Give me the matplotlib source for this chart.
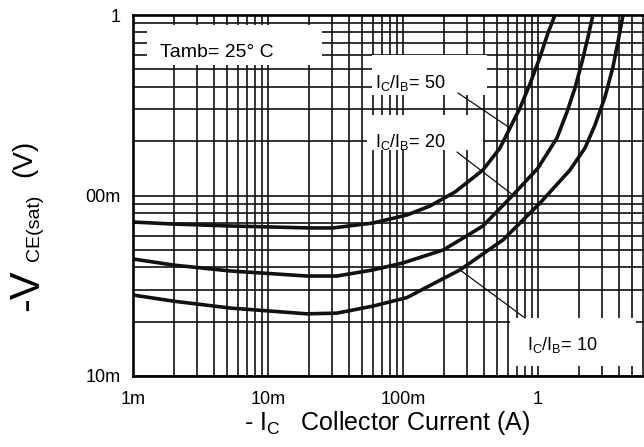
import matplotlib
matplotlib.use("Agg")
import matplotlib.pyplot as plt
from matplotlib.patches import Rectangle

plt.rcParams['font.family'] = ['Liberation Sans', 'DejaVu Sans']

# collector current (A) and V_CE(sat) (V)
i_50 = [0.001, 0.00198, 0.00523, 0.0205, 0.0303, 0.060, 0.107, 0.158,
        0.243, 0.391, 0.523, 0.620, 0.736, 0.872, 1.035, 1.186, 1.336]
v_50 = [0.0713, 0.0695, 0.0678, 0.0661, 0.0661, 0.0704, 0.0780, 0.0874,
        0.1046, 0.1384, 0.1833, 0.2366, 0.3053, 0.4148, 0.585, 0.795, 1.0]

i_20 = [0.001, 0.00198, 0.00523, 0.01945, 0.0324, 0.060, 0.1, 0.198, 0.2644,
        0.391, 0.653, 1.0, 1.382, 1.640, 1.880, 2.118, 2.346, 2.555]
v_20 = [0.0445, 0.0412, 0.0382, 0.0358, 0.0358, 0.0387, 0.0423, 0.0499, 0.0567,
        0.0678, 0.1006, 0.1420, 0.2083, 0.2902, 0.394, 0.549, 0.755, 1.0]

i_10 = [0.001, 0.00198, 0.00523, 0.01945, 0.0324, 0.060, 0.107, 0.158, 0.2644,
        0.550, 1.035, 1.726, 2.229, 2.644, 3.135, 3.593, 3.913, 4.263]
v_10 = [0.0281, 0.0260, 0.0238, 0.0221, 0.0223, 0.0244, 0.0272, 0.0317, 0.0387,
        0.0567, 0.0908, 0.1384, 0.1833, 0.2458, 0.3513, 0.515, 0.709, 1.0]

x_ticks = [1e-3, 1e-2, 1e-1, 1]
x_labels = ['1m', '10m', '100m', '1']
y_ticks = [1e-2, 1e-1, 1]
y_labels = ['10m', '00m', '1']

fig = plt.figure(figsize=(6.44, 4.47), dpi=100)
ax = fig.add_axes([133 / 644, 1 - 376 / 447, 511 / 644, 361 / 447])
ax.set_xscale('log')
ax.set_yscale('log')
ax.set_xlim(1e-3, 6.1)
ax.set_ylim(1e-2, 1)

ax.set_axisbelow(True)
ax.grid(True, which='both', color='#111111', lw=1.2)
ax.tick_params(which='both', length=0)
ax.set_xticks(x_ticks)
ax.set_xticklabels(x_labels, fontsize=13)
ax.set_yticks(y_ticks)
ax.set_yticklabels(y_labels, fontsize=13)
ax.tick_params(axis='x', pad=11)
ax.tick_params(axis='y', pad=9)
for s in ['top', 'left', 'bottom']:
    ax.spines[s].set_linewidth(1.9)
ax.spines['right'].set_visible(False)

# white boxes behind the labels
boxes = [(0.0274, 0.8615, 0.3425, 0.1108),
         (0.4677, 0.7784, 0.225, 0.1108),
         (0.458, 0.626, 0.227, 0.097),
         (0.7378, 0.0277, 0.2466, 0.133)]
for bx, by, bw, bh in boxes:
    ax.add_patch(Rectangle((bx, by), bw, bh, transform=ax.transAxes,
                           facecolor='white', edgecolor='none', zorder=1))

for i, v in [(i_50, v_50), (i_20, v_20), (i_10, v_10)]:
    ax.plot(i, v, color='#111111', lw=2.6, zorder=2, solid_capstyle='round')

ax.text(0.0528, 0.8837, 'Tamb= 25° C', fontsize=14, transform=ax.transAxes,
        va='baseline', zorder=4)
lab = r'I$_\mathregular{C}$/I$_\mathregular{B}$= '
ax.text(0.4736, 0.7978, lab + '50', fontsize=13, transform=ax.transAxes,
        va='baseline', zorder=4)
ax.text(0.4736, 0.6343, lab + '20', fontsize=13, transform=ax.transAxes,
        va='baseline', zorder=4)
ax.text(0.771, 0.072, lab + '10', fontsize=13, transform=ax.transAxes,
        va='baseline', zorder=4)

lead = dict(arrowstyle='-', lw=0.9, color='#111111', shrinkA=0, shrinkB=0)
ax.annotate('', xy=(i_50[11], v_50[11]), xytext=(0.636, 0.784),
            textcoords='axes fraction', arrowprops=lead, zorder=3)
ax.annotate('', xy=(i_20[10], v_20[10]), xytext=(0.634, 0.6205),
            textcoords='axes fraction', arrowprops=lead, zorder=3)
ax.annotate('', xy=(i_10[8], v_10[8]), xytext=(0.767, 0.1607),
            textcoords='axes fraction', arrowprops=lead, zorder=3)

# axis titles
fig.text(387 / 644, 1 - 423 / 447,
         r'- I$_\mathregular{C}$   Collector Current (A)',
         fontsize=18, ha='center', va='center')
fig.text(27 / 644, 1 - 290 / 447, '-V', fontsize=30, rotation=90,
         ha='center', va='center')
fig.text(34 / 644, 1 - 228 / 447, 'CE(sat)', fontsize=14, rotation=90,
         ha='center', va='center')
fig.text(24 / 644, 1 - 158 / 447, '(V)', fontsize=20, rotation=90,
         ha='center', va='center')

fig.savefig('out.png', dpi=100)
